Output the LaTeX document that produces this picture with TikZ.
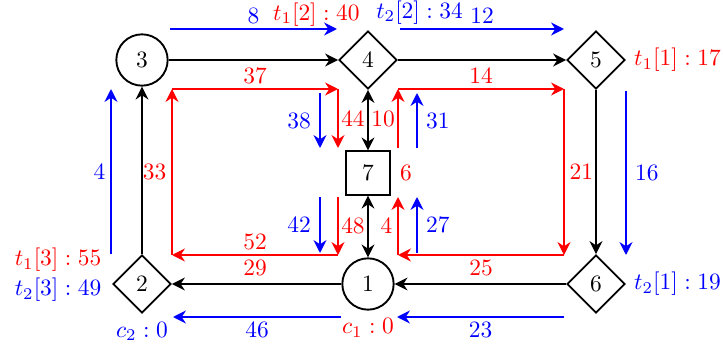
\documentclass[tikz,border=0pt]{standalone}
\usetikzlibrary{arrows.meta, positioning, shapes.geometric}

\begin{document}
\begin{tikzpicture}[
  circ/.style={circle, draw, thick, minimum size=0.77cm, inner sep=0pt},
  diam/.style={diamond, draw, thick, minimum size=0.87cm, inner sep=0pt},
  sq/.style={rectangle, draw, thick, minimum size=0.65cm, inner sep=0pt},
  arr/.style={-{Stealth[length=5.5pt, width=5.5pt]}, thick},
  darr/.style={{Stealth[length=5.5pt, width=5.5pt]}-{Stealth[length=5.5pt, width=5.5pt]}, thick},
  lbl/.style={inner sep=2pt},
  far/.style={inner sep=3.5pt},
  near/.style={inner sep=1pt}
]
  \useasboundingbox (0,0) rectangle (10.845,5.25);

  % vertices
  \node[circ] (n3) at (2.13,4.35) {3};
  \node[diam] (n4) at (5.52,4.35) {4};
  \node[diam] (n5) at (8.94,4.35) {5};
  \node[sq]   (n7) at (5.52,2.655) {7};
  \node[diam] (n2) at (2.13,0.99) {2};
  \node[circ] (n1) at (5.52,0.99) {1};
  \node[diam] (n6) at (8.94,0.99) {6};

  % vertex labels
  \node[red, above left=-1.8pt and 0pt of n4.north] (t12) {$t_1[2]:40$};
  \node[blue, above right=-1pt and 0pt of n4.north] (t22) {$t_2[2]:34$};
  \node[red, right=0pt of n5] (t11) {$t_1[1]:17$};
  \node[blue, right=0pt of n6] (t21) {$t_2[1]:19$};
  \node[red, left=1pt of n2, yshift=0.36cm] (t13) {$t_1[3]:55$};
  \node[blue, left=1pt of n2, yshift=-0.09cm] (t23) {$t_2[3]:49$};
  \node[blue, below=0pt of n2] (c2) {$c_2:0$};
  \node[red, below=0pt of n1] (c1) {$c_1:0$};
  \node[red, right=0.5pt of n7] (w7) {$6$};

  % black edges
  \draw[arr] (n3) -- (n4);
  \draw[arr] (n4) -- (n5);
  \draw[arr] (n5) -- (n6);
  \draw[arr] (n6) -- (n1);
  \draw[arr] (n1) -- (n2);
  \draw[arr] (n2) -- (n3);
  \draw[darr] (n4) -- (n7);
  \draw[darr] (n7) -- (n1);

  % red loops
  \coordinate (la) at (2.58,1.425);
  \coordinate (lb) at (2.58,3.915);
  \coordinate (lc) at (5.07,3.915);
  \coordinate (ld) at (5.07,1.425);
  \coordinate (lu) at (5.07,3.03);
  \coordinate (ll) at (5.07,2.295);
  \coordinate (ra) at (5.97,3.915);
  \coordinate (rb) at (8.46,3.915);
  \coordinate (rc) at (8.46,1.425);
  \coordinate (rd) at (5.97,1.425);
  \coordinate (ru) at (5.97,3.03);
  \coordinate (rl) at (5.97,2.295);

  \draw[arr, red] (la) -- node[lbl, left] (l33) {$33$} (lb);
  \draw[arr, red] (lb) -- node[lbl, above] (l37) {$37$} (lc);
  \draw[arr, red] (lc) -- node[near, right] (l44) {$44$} (lu);
  \draw[arr, red] (ll) -- node[near, right] (l48) {$48$} (ld);
  \draw[arr, red] (ld) -- node[lbl, above] (l52) {$52$} node[lbl, below] (l29) {$29$} (la);
  \draw[arr, red] (ru) -- node[near, left] (l10) {$10$} (ra);
  \draw[arr, red] (ra) -- node[lbl, above] (l14) {$14$} (rb);
  \draw[arr, red] (rb) -- node[lbl, right] (l21) {$21$} (rc);
  \draw[arr, red] (rc) -- node[lbl, below] (l25) {$25$} (rd);
  \draw[arr, red] (rd) -- node[lbl, left] (l4r) {$4$} (rl);

  % blue arrows
  \coordinate (ba) at (2.55,4.815);
  \coordinate (bb) at (5.055,4.815);
  \coordinate (bc) at (6.0,4.815);
  \coordinate (bd) at (8.46,4.815);
  \coordinate (be) at (9.39,3.885);
  \coordinate (bf) at (9.39,1.425);
  \coordinate (bg) at (8.46,0.495);
  \coordinate (bh) at (5.955,0.495);
  \coordinate (bi) at (5.115,0.495);
  \coordinate (bj) at (2.595,0.495);
  \coordinate (bk) at (1.665,1.44);
  \coordinate (bl) at (1.665,3.915);
  \coordinate (bm) at (4.8,3.855);
  \coordinate (bn) at (4.8,3.03);
  \coordinate (bo) at (4.8,2.295);
  \coordinate (bp) at (4.8,1.455);
  \coordinate (bq) at (6.255,3.03);
  \coordinate (br) at (6.255,3.855);
  \coordinate (bs) at (6.255,1.455);
  \coordinate (bt) at (6.255,2.295);

  \draw[arr, blue] (ba) -- node[lbl, above] (l8) {$8$} (bb);
  \draw[arr, blue] (bc) -- node[lbl, above] (l12) {$12$} (bd);
  \draw[arr, blue] (be) -- node[far, right] (l16) {$16$} (bf);
  \draw[arr, blue] (bg) -- node[lbl, below] (l23) {$23$} (bh);
  \draw[arr, blue] (bi) -- node[lbl, below] (l46) {$46$} (bj);
  \draw[arr, blue] (bk) -- node[lbl, left] (l4b) {$4$} (bl);
  \draw[arr, blue] (bm) -- node[far, left] (l38) {$38$} (bn);
  \draw[arr, blue] (bo) -- node[far, left] (l42) {$42$} (bp);
  \draw[arr, blue] (bq) -- node[far, right] (l31) {$31$} (br);
  \draw[arr, blue] (bs) -- node[far, right] (l27) {$27$} (bt);

\end{tikzpicture}
\end{document}
